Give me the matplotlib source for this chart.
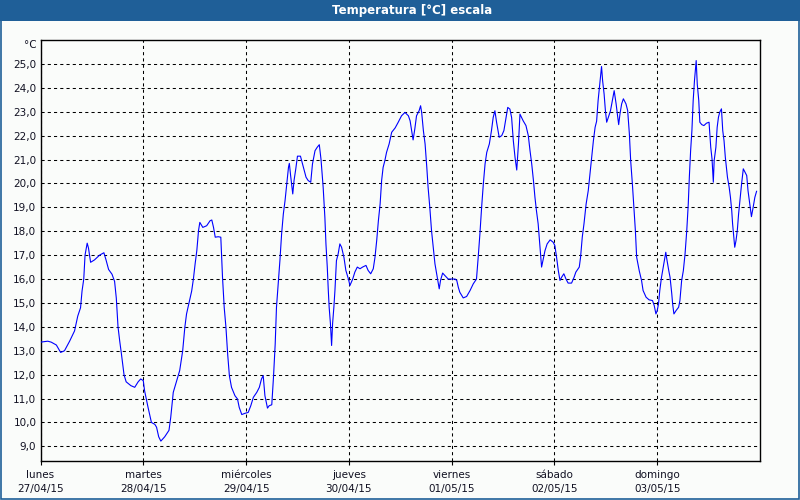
import matplotlib
matplotlib.use("Agg")
import matplotlib.pyplot as plt
from matplotlib.patches import Rectangle

# ---- data (hours since 27/04/15 00:00, temperature in °C) ----
hours = [0.0, 1.7, 2.5, 3.7, 4.7, 5.6, 6.8, 7.95, 8.7, 9.35, 9.7, 10.1, 10.4, 10.9, 11.2, 11.7,
         12.6, 13.8, 14.8, 15.3, 15.9, 16.7, 17.3, 17.7, 18.1, 18.5, 18.9, 19.5, 20.0, 21.1, 22.0,
         22.8, 23.4, 24.0, 24.3, 25.1, 25.9, 26.7, 27.1, 27.6, 28.1, 29.0, 30.0, 30.4, 31.0, 31.7,
         32.5, 33.2, 33.7, 34.1, 34.7, 35.3, 35.7, 36.1, 36.5, 36.9, 37.2, 37.9, 38.8, 39.6, 40.0,
         40.4, 40.8, 41.5, 42.1, 42.5, 42.9, 43.3, 43.7, 44.1, 44.6, 45.4, 46.0, 46.4, 47.0, 47.7,
         48.5, 49.1, 49.7, 50.5, 51.1, 51.6, 52.0, 52.4, 53.0, 53.4, 54.0, 54.4, 54.8, 55.1, 55.5,
         55.9, 56.3, 56.7, 57.1, 57.5, 57.9, 58.1, 58.4, 58.9, 59.2, 59.6, 60.0, 60.7, 61.4, 62.0,
         62.5, 63.1, 63.5, 64.1, 64.6, 65.1, 65.5, 66.0, 66.4, 66.65, 66.96, 67.2, 67.4, 67.7,
         67.97, 68.2, 68.5, 68.75, 69.1, 69.5, 69.9, 70.3, 70.85, 71.3, 71.9, 72.25, 72.9, 73.4,
         73.97, 74.6, 75.2, 76.0, 76.5, 77.1, 77.7, 78.1, 78.5, 78.9, 79.3, 79.65, 80.0, 80.4,
         80.8, 81.4, 82.0, 82.8, 83.5, 84.3, 85.1, 85.9, 86.3, 86.65, 87.0, 87.4, 87.8, 88.4,
         88.75, 89.0, 89.4, 89.8, 90.2, 90.5, 90.9, 91.3, 91.7, 92.1, 92.5, 92.9, 93.1, 93.4,
         93.9, 94.4, 95.2, 96.0, 96.8, 97.2, 97.55, 97.9, 98.7, 99.5, 100.3, 101.05, 101.8,
         102.2, 102.6, 103.0, 103.4, 103.8, 104.2, 104.8, 105.3, 105.7, 106.1, 106.5, 107.1,
         107.7, 108.2, 108.7, 109.1, 109.6, 110.0, 110.4, 110.8, 111.2, 111.6, 111.95, 112.7,
         113.35, 113.9, 114.3, 114.7, 115.1, 115.45, 115.8, 116.2, 116.5, 116.8, 117.0, 117.4,
         117.8, 118.3, 119.0, 119.7, 120.1, 120.5, 120.9, 121.3, 121.7, 122.2, 122.7, 123.2,
         124.0, 124.6, 125.0, 125.8, 126.1, 126.5, 126.9, 127.4, 127.9, 128.3, 128.7, 129.1,
         129.5, 129.85, 130.2, 130.6, 131.0, 131.25, 131.6, 131.9, 132.2, 132.6, 133.1, 133.6,
         133.95, 134.4, 134.7, 135.0, 135.3, 135.7, 136.1, 136.7, 137.1, 137.5, 137.8, 138.2,
         138.6, 138.9, 139.2, 139.8, 140.35, 140.7, 141.4, 142.1, 142.9, 143.3, 143.7, 144.0,
         144.3, 144.6, 145.0, 145.4, 145.8, 146.0, 146.3, 146.7, 147.0, 147.4, 147.6, 147.9,
         148.4, 149.0, 149.3, 149.7, 150.1, 150.5, 150.9, 151.25, 151.5, 151.8, 152.1, 152.4,
         152.7, 153.1, 153.35, 153.7, 153.95, 154.4, 154.9, 155.5, 156.1, 156.5, 156.8, 157.1,
         157.3, 157.7, 158.0, 158.3, 158.6, 159.0, 159.3, 159.6, 159.9, 160.4, 160.8, 161.1,
         161.4, 161.6, 161.9, 162.1, 162.4, 162.7, 163.0, 163.3, 163.7, 164.1, 164.5, 164.9,
         165.2, 165.6, 166.0, 166.4, 166.8, 167.2]
temps = [13.36, 13.4, 13.36, 13.24, 12.93, 13.0, 13.4, 13.83, 14.45, 14.8, 15.5, 16.0, 17.0, 17.5,
         17.3, 16.7, 16.8, 17.0, 17.1, 16.8, 16.4, 16.2, 15.9, 15.2, 14.0, 13.4, 12.86, 12.0, 11.7,
         11.54, 11.47, 11.7, 11.82, 11.75, 11.33, 10.64, 10.0, 9.92, 9.8, 9.4, 9.22, 9.4, 9.67,
         10.2, 11.26, 11.68, 12.17, 13.0, 13.98, 14.54, 15.03, 15.5, 16.0, 16.63, 17.19, 18.03,
         18.37, 18.16, 18.23, 18.44, 18.47, 18.16, 17.75, 17.77, 17.75, 16.07, 14.8, 13.98, 12.86,
         11.96, 11.47, 11.12, 10.98, 10.63, 10.33, 10.38, 10.42, 10.7, 11.05, 11.26, 11.47, 11.82,
         11.96, 11.12, 10.6, 10.7, 10.74, 11.89, 13.28, 14.82, 15.8, 16.77, 17.89, 18.72, 19.28,
         19.98, 20.67, 20.84, 20.33, 19.56, 20.12, 20.6, 21.14, 21.14, 20.67, 20.26, 20.12, 20.05,
         20.81, 21.37, 21.51, 21.62, 21.0, 19.84, 18.58, 17.47, 16.5, 15.52, 14.82, 14.13, 13.22,
         14.13, 14.82, 15.52, 16.77, 17.05, 17.47, 17.33, 16.91, 16.36, 16.0, 15.73, 16.0, 16.29,
         16.5, 16.43, 16.5, 16.57, 16.36, 16.22, 16.43, 16.91, 17.61, 18.45, 19.14, 20.12, 20.67,
         20.95, 21.3, 21.65, 22.14, 22.32, 22.55, 22.83, 22.97, 22.83, 22.62, 22.21, 21.82, 22.28,
         22.83, 23.04, 23.25, 22.97, 22.21, 21.65, 20.67, 19.84, 19.0, 18.03, 17.33, 16.64, 16.22,
         15.8, 15.59, 15.94, 16.25, 16.15, 16.0, 16.0, 16.0, 15.94, 15.66, 15.45, 15.21, 15.27,
         15.52, 15.8, 16.0, 16.91, 17.89, 19.0, 19.98, 20.81, 21.3, 21.65, 22.21, 22.76, 23.04,
         22.55, 21.93, 22.0, 22.21, 22.76, 23.18, 23.11, 22.76, 21.79, 21.09, 20.56, 21.65, 22.9,
         22.62, 22.42, 22.0, 21.37, 20.81, 20.12, 19.42, 18.86, 18.31, 17.61, 16.91, 16.5, 16.84,
         17.19, 17.47, 17.64, 17.54, 17.4, 16.91, 16.36, 15.94, 16.08, 16.22, 16.0, 15.83, 15.83,
         16.08, 16.29, 16.5, 16.91, 17.75, 18.31, 19.14, 19.7, 20.4, 21.09, 21.79, 22.35, 22.6,
         23.47, 24.16, 24.89, 24.3, 23.74, 23.05, 22.56, 22.77, 23.05, 23.54, 23.88, 23.33, 22.9,
         22.46, 22.9, 23.33, 23.54, 23.33, 23.05, 22.07, 20.96, 19.98, 18.86, 18.03, 16.91, 16.35,
         15.93, 15.52, 15.24, 15.13, 15.1, 14.89, 14.54, 14.68, 14.96, 15.52, 16.07, 16.49, 16.91,
         17.12, 16.77, 16.35, 16.07, 15.38, 14.96, 14.54, 14.68, 14.82, 15.1, 15.93, 16.35, 17.05,
         18.03, 19.14, 20.26, 21.37, 22.21, 23.47, 24.3, 25.14, 24.16, 23.47, 22.56, 22.46, 22.42,
         22.52, 22.56, 21.51, 21.02, 20.05, 20.96, 21.51, 22.35, 22.77, 22.98, 23.12, 22.21, 21.79,
         21.1, 20.26, 19.84, 19.42, 18.86, 18.31, 17.75, 17.33, 17.61, 18.03, 18.72, 19.28, 19.98,
         20.61, 20.47, 20.33, 19.7, 19.14, 18.61, 19.0, 19.42, 19.67]

day_ticks = [0, 24, 48, 72, 96, 120, 144]
day_names = ["lunes", "martes", "miércoles", "jueves", "viernes", "sábado", "domingo"]
day_dates = ["27/04/15", "28/04/15", "29/04/15", "30/04/15", "01/05/15", "02/05/15", "03/05/15"]
y_ticks = list(range(9, 26))
title = "Temperatura [°C] escala"
unit = "°C"

W, H = 800, 500
bg = "#fafcfa"
bar = "#1f5f98"

fig = plt.figure(figsize=(W / 100, H / 100), dpi=100, facecolor=bg)

def fx(px):
    return px / W

def fy(py):
    return 1 - py / H

# title bar and frame
fig.patches.append(Rectangle((0, fy(21)), 1, 21 / H, transform=fig.transFigure,
                             facecolor=bar, edgecolor="none", zorder=0))
fig.patches.append(Rectangle((0.6 / W, 0.6 / H), 1 - 1.2 / W, 1 - 1.2 / H,
                             transform=fig.transFigure, facecolor="none",
                             edgecolor=bar, linewidth=1.2, zorder=5))
fig.text(fx(412), fy(10.5), title, color="white", fontsize=8.5, fontweight="bold",
         ha="center", va="center", family="DejaVu Sans")

ax = fig.add_axes([fx(40.5), fy(460.7), (760 - 40.5) / W, (460.7 - 40) / H])
ax.set_facecolor(bg)
ax.plot(hours, temps, color="#0000ff", linewidth=0.8, zorder=3)

ax.set_xlim(0, 168)
ax.set_ylim(8.4, 26.0)

ax.set_yticks(y_ticks)
ax.set_yticklabels([f"{v:.1f}".replace(".", ",") for v in y_ticks])
ax.set_xticks(day_ticks)
ax.set_xticklabels([f"{n}\n{d}" for n, d in zip(day_names, day_dates)], linespacing=1.45)

ax.tick_params(axis="y", length=0, pad=3, labelsize=7.5, labelcolor="#111122")
ax.tick_params(axis="x", length=3, width=0.8, direction="out", pad=4, labelsize=7.5,
               labelcolor="#111122")

ax.grid(True, color="black", linestyle=(0, (3, 3)), linewidth=0.75, zorder=1)
for s in ax.spines.values():
    s.set_color("black")
    s.set_linewidth(1.0)

fig.text(fx(37), fy(45), unit, fontsize=7.5, color="#111122", ha="right", va="center")

fig.savefig("out.png", dpi=100, facecolor=bg)
